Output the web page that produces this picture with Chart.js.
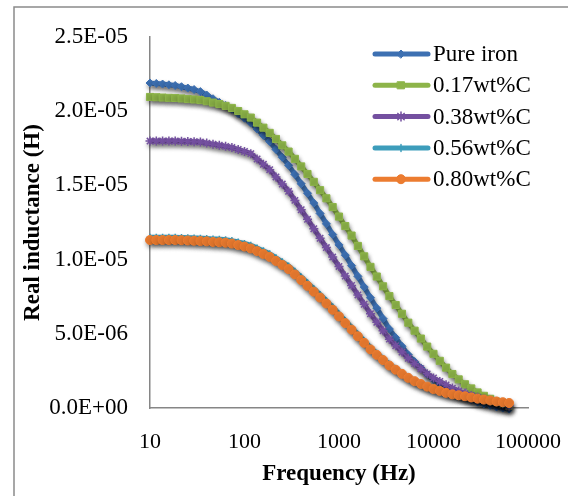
<!DOCTYPE html>
<html>
<head>
<meta charset="utf-8">
<script src="https://cdn.jsdelivr.net/npm/chart.js@4.4.0/dist/chart.umd.min.js"></script>
<style>
  html, body { margin: 0; padding: 0; background: #fff; }
  #wrap { width: 568px; height: 496px; }
</style>
</head>
<body>
<div id="wrap"><canvas id="chart" width="568" height="496"></canvas></div>
<script>
// frequency (Hz)
const frequencies = [10, 11.66, 13.59, 15.85, 18.48, 21.54, 25.12, 29.29, 34.15, 39.81, 46.42, 54.12, 63.10, 73.56, 85.77,
  100, 116.6, 135.9, 158.5, 184.8, 215.4, 251.2, 292.9, 341.5, 398.1, 464.2, 541.2, 631.0, 735.6, 857.7,
  1000, 1166, 1359, 1585, 1848, 2154, 2512, 2929, 3415, 3981, 4642, 5412, 6310, 7356, 8577,
  10000, 11660, 13590, 15850, 18480, 21540, 25120, 29290, 34150, 39810, 46420, 54120, 63100];

// real inductance, in units of 1E-05 H
const pureIron = [2.190, 2.187, 2.183, 2.178, 2.173, 2.165, 2.156, 2.146, 2.132, 2.109,
  2.084, 2.060, 2.038, 2.013, 1.983, 1.953, 1.920, 1.880, 1.837, 1.795,
  1.742, 1.689, 1.635, 1.574, 1.511, 1.447, 1.381, 1.311, 1.241, 1.169,
  1.099, 1.030, 0.959, 0.887, 0.815, 0.743, 0.673, 0.602, 0.532, 0.474,
  0.416, 0.359, 0.313, 0.270, 0.228, 0.193, 0.166, 0.138, 0.113, 0.090,
  0.069, 0.055, 0.040, 0.028, 0.018, 0.007, 0.000, -0.007];
const carbon017 = [2.096, 2.094, 2.092, 2.090, 2.089, 2.086, 2.082, 2.079, 2.075, 2.067,
  2.058, 2.048, 2.036, 2.022, 2.001, 1.979, 1.957, 1.923, 1.889, 1.854,
  1.813, 1.770, 1.728, 1.679, 1.628, 1.577, 1.524, 1.468, 1.413, 1.354,
  1.290, 1.226, 1.162, 1.092, 1.022, 0.951, 0.886, 0.820, 0.754, 0.694,
  0.635, 0.575, 0.521, 0.468, 0.414, 0.365, 0.318, 0.272, 0.229, 0.193,
  0.160, 0.132, 0.105, 0.082, 0.062, 0.042, 0.028, 0.013];
const carbon038 = [1.799, 1.799, 1.799, 1.799, 1.799, 1.797, 1.796, 1.794, 1.792, 1.785,
  1.778, 1.771, 1.763, 1.755, 1.742, 1.729, 1.714, 1.678, 1.642, 1.606,
  1.557, 1.509, 1.460, 1.399, 1.336, 1.272, 1.208, 1.144, 1.081, 1.017,
  0.954, 0.889, 0.826, 0.762, 0.699, 0.635, 0.578, 0.521, 0.464, 0.420,
  0.377, 0.335, 0.299, 0.265, 0.230, 0.202, 0.179, 0.156, 0.134, 0.115,
  0.097, 0.085, 0.072, 0.061, 0.051, 0.041, 0.028, 0.013];
const carbon056 = [1.150, 1.150, 1.150, 1.150, 1.150, 1.149, 1.148, 1.146, 1.144, 1.142,
  1.139, 1.137, 1.134, 1.128, 1.119, 1.109, 1.096, 1.078, 1.059, 1.039,
  1.012, 0.985, 0.957, 0.921, 0.883, 0.844, 0.804, 0.764, 0.723, 0.680,
  0.634, 0.588, 0.543, 0.497, 0.452, 0.407, 0.369, 0.333, 0.295, 0.266,
  0.237, 0.209, 0.186, 0.166, 0.147, 0.130, 0.116, 0.102, 0.091, 0.083,
  0.075, 0.066, 0.057, 0.049, 0.041, 0.033, 0.026, 0.020];
const carbon080 = [1.132, 1.132, 1.132, 1.132, 1.132, 1.131, 1.129, 1.127, 1.125, 1.123,
  1.119, 1.117, 1.114, 1.108, 1.098, 1.088, 1.075, 1.057, 1.038, 1.018,
  0.991, 0.964, 0.936, 0.900, 0.862, 0.823, 0.784, 0.744, 0.704, 0.662,
  0.617, 0.572, 0.528, 0.483, 0.439, 0.395, 0.358, 0.323, 0.286, 0.258,
  0.230, 0.203, 0.181, 0.162, 0.144, 0.128, 0.115, 0.102, 0.092, 0.086,
  0.079, 0.071, 0.063, 0.057, 0.051, 0.044, 0.039, 0.034];

const seriesLabels = ["Pure iron", "0.17wt%C", "0.38wt%C", "0.56wt%C", "0.80wt%C"];
const xTickValues = [10, 100, 1000, 10000, 100000];
const yTickValues = [0, 0.5, 1.0, 1.5, 2.0, 2.5];
const yTickLabels = ["0.0E+00", "5.0E-06", "1.0E-05", "1.5E-05", "2.0E-05", "2.5E-05"];

const SERIF = '"Liberation Serif", "Times New Roman", serif';

const styles = [
  { color: "#3D70B2", point: "rectRot", radius: 4, bw: 1 },
  { color: "#8DB449", point: "rect", radius: 5, bw: 1 },
  { color: "#7450A0", point: "star", radius: 4.5, bw: 1.5 },
  { color: "#3D9DBB", point: "cross", radius: 3.5, bw: 1.5 },
  { color: "#EC7C30", point: "circle", radius: 4.5, bw: 1 },
];

const allSeries = [pureIron, carbon017, carbon038, carbon056, carbon080];

const datasets = allSeries.map((vals, i) => ({
  label: seriesLabels[i],
  data: vals.map((v, j) => ({ x: frequencies[j], y: v })),
  borderColor: styles[i].color,
  backgroundColor: styles[i].color,
  pointBackgroundColor: styles[i].color,
  pointBorderColor: styles[i].color,
  pointStyle: styles[i].point,
  pointRadius: styles[i].radius,
  pointBorderWidth: styles[i].bw,
  borderWidth: 5,
  tension: 0.3,
  clip: false,
  order: allSeries.length - i,
}));

const shadowPlugin = {
  id: "shadow",
  beforeDatasetDraw(chart) {
    const c = chart.ctx;
    c.save();
    c.shadowColor = "rgba(0,0,0,0.35)";
    c.shadowBlur = 4;
    c.shadowOffsetX = 1;
    c.shadowOffsetY = 3;
  },
  afterDatasetDraw(chart) {
    chart.ctx.restore();
  },
};

const framePlugin = {
  id: "frame",
  beforeDraw(chart) {
    const c = chart.ctx;
    c.save();
    c.fillStyle = "#fff";
    c.fillRect(0, 0, chart.width, chart.height);
    c.strokeStyle = "#8a8a8a";
    c.lineWidth = 1.5;
    c.strokeRect(14, 7, 700, 700);
    c.restore();
  },
};

const legendPlugin = {
  id: "sideLegend",
  afterDraw(chart) {
    const c = chart.ctx;
    chart.data.datasets.forEach((ds, i) => {
      const y = 54 + i * 31.3;
      c.save();
      c.strokeStyle = ds.borderColor;
      c.lineWidth = 5;
      c.lineCap = "round";
      c.beginPath();
      c.moveTo(375, y);
      c.lineTo(428, y);
      c.stroke();
      c.fillStyle = ds.pointBackgroundColor;
      c.strokeStyle = ds.pointBorderColor;
      c.lineWidth = ds.pointBorderWidth;
      Chart.helpers.drawPoint(c, {
        pointStyle: ds.pointStyle, radius: ds.pointRadius,
        borderWidth: ds.pointBorderWidth, rotation: 0,
      }, 401, y);
      c.fillStyle = "#000";
      c.font = "23px " + SERIF;
      c.textBaseline = "middle";
      c.textAlign = "left";
      c.fillText(ds.label, 433, y + 1);
      c.restore();
    });
  },
};

new Chart(document.getElementById("chart"), {
  type: "line",
  data: { datasets: datasets },
  options: {
    responsive: false,
    animation: false,
    layout: { padding: { left: 0, right: 40, top: 37, bottom: 0 } },
    plugins: { legend: { display: false }, tooltip: { enabled: false } },
    scales: {
      x: {
        type: "logarithmic",
        min: 10,
        max: 100000,
        afterBuildTicks: (s) => { s.ticks = xTickValues.map((v) => ({ value: v })); },
        afterFit: (s) => { s.height = 88; s.paddingLeft = 0; s.paddingRight = 0; },
        grid: { display: false, drawTicks: false },
        border: { display: true, color: "#868686", width: 1.5 },
        ticks: {
          autoSkip: false,
          maxRotation: 0,
          padding: 21,
          color: "#000",
          font: { family: SERIF, size: 22 },
          callback: (v) => String(v),
        },
        title: {
          display: true,
          text: "Frequency (Hz)",
          color: "#000",
          font: { family: SERIF, size: 23, weight: "bold" },
          padding: { top: 0, bottom: 8 },
        },
      },
      y: {
        min: 0,
        max: 2.5,
        afterBuildTicks: (s) => { s.ticks = yTickValues.map((v) => ({ value: v })); },
        afterFit: (s) => { s.width = 150; s.paddingTop = 0; s.paddingBottom = 0; },
        grid: { display: false, drawTicks: false },
        border: { display: true, color: "#868686", width: 1.5 },
        ticks: {
          padding: 22,
          color: "#000",
          font: { family: SERIF, size: 23 },
          callback: (v) => yTickLabels[yTickValues.indexOf(v)],
        },
        title: {
          display: true,
          text: "Real inductance (H)",
          color: "#000",
          font: { family: SERIF, size: 23, weight: "bold" },
          padding: { top: 19, bottom: 0 },
        },
      },
    },
  },
  plugins: [framePlugin, shadowPlugin, legendPlugin],
});
</script>
</body>
</html>
